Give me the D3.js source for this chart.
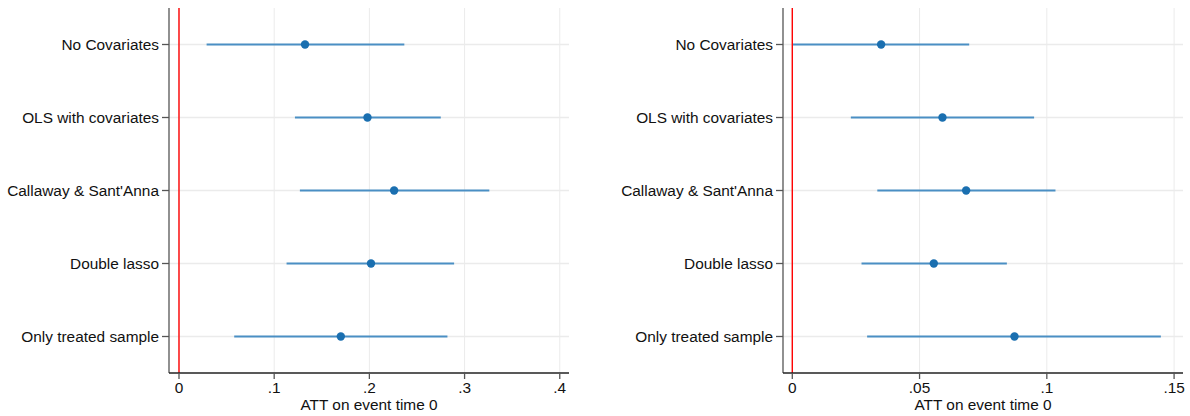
<!DOCTYPE html>
<html>
<head>
<meta charset="utf-8">
<script src="https://cdn.jsdelivr.net/npm/d3@7"></script>
<style>
  body { margin: 0; background: #fff; }
  text { font-family: "Liberation Sans", Arial, sans-serif; fill: #111; }
</style>
</head>
<body>
<div id="chart"></div>
<script>
// estimators, top to bottom
var models = ["No Covariates", "OLS with covariates", "Callaway & Sant'Anna", "Double lasso", "Only treated sample"];

// left panel
var leftEst = [0.1324, 0.198, 0.226, 0.2017, 0.170];
var leftLo  = [0.029, 0.1218, 0.127, 0.113, 0.058];
var leftHi  = [0.2367, 0.275, 0.326, 0.289, 0.282];
var leftTicks = [0, 0.1, 0.2, 0.3, 0.4];
var leftTickLabels = ["0", ".1", ".2", ".3", ".4"];

// right panel
var rightEst = [0.0349, 0.059, 0.0683, 0.0556, 0.0873];
var rightLo  = [0.0003, 0.023, 0.0334, 0.0272, 0.0294];
var rightHi  = [0.0695, 0.095, 0.1034, 0.0843, 0.1448];
var rightTicks = [0, 0.05, 0.1, 0.15];
var rightTickLabels = ["0", ".05", ".1", ".15"];

var xTitle = "ATT on event time 0";

var svg = d3.select("#chart").append("svg")
    .attr("width", 1190)
    .attr("height", 416);

function drawPanel(left, right, xdom, est, lo, hi, ticks, tickLabels) {
    var top = 8, bottom = 373;
    var x = d3.scaleLinear().domain(xdom).range([left, right]);
    var y = d3.scaleLinear().domain([0.5, 5.5]).range([top, bottom]);
    var g = svg.append("g");

    // grid
    g.selectAll(".vgrid").data(ticks).enter().append("line")
        .attr("x1", function (d) { return x(d); })
        .attr("x2", function (d) { return x(d); })
        .attr("y1", top).attr("y2", bottom)
        .attr("stroke", "#ebebeb").attr("stroke-width", 1);
    g.selectAll(".hgrid").data(models).enter().append("line")
        .attr("x1", left).attr("x2", right)
        .attr("y1", function (d, i) { return y(i + 1); })
        .attr("y2", function (d, i) { return y(i + 1); })
        .attr("stroke", "#ebebeb").attr("stroke-width", 1.5);

    // reference line at zero
    g.append("line")
        .attr("x1", x(0)).attr("x2", x(0))
        .attr("y1", top).attr("y2", bottom)
        .attr("stroke", "#ff0000").attr("stroke-width", 1.4);

    // CIs
    g.selectAll(".ci").data(models).enter().append("line")
        .attr("x1", function (d, i) { return x(lo[i]); })
        .attr("x2", function (d, i) { return x(hi[i]); })
        .attr("y1", function (d, i) { return y(i + 1); })
        .attr("y2", function (d, i) { return y(i + 1); })
        .attr("stroke", "#4a8fc4").attr("stroke-width", 2);

    g.selectAll(".pt").data(models).enter().append("circle")
        .attr("cx", function (d, i) { return x(est[i]); })
        .attr("cy", function (d, i) { return y(i + 1); })
        .attr("r", 4.2)
        .attr("fill", "#1a6fb0");

    // y axis
    g.append("line")
        .attr("x1", left).attr("x2", left)
        .attr("y1", top).attr("y2", bottom)
        .attr("stroke", "#555").attr("stroke-width", 1.3);
    g.selectAll(".ytick").data(models).enter().append("line")
        .attr("x1", left - 7).attr("x2", left)
        .attr("y1", function (d, i) { return y(i + 1); })
        .attr("y2", function (d, i) { return y(i + 1); })
        .attr("stroke", "#555").attr("stroke-width", 1.3);
    g.selectAll(".ylab").data(models).enter().append("text")
        .attr("x", left - 10)
        .attr("y", function (d, i) { return y(i + 1); })
        .attr("dy", "0.35em")
        .attr("text-anchor", "end")
        .style("font-size", "15.4px")
        .text(function (d) { return d; });

    // x axis
    g.append("line")
        .attr("x1", left).attr("x2", right)
        .attr("y1", bottom).attr("y2", bottom)
        .attr("stroke", "#222").attr("stroke-width", 1.3);
    g.selectAll(".xtick").data(ticks).enter().append("line")
        .attr("x1", function (d) { return x(d); })
        .attr("x2", function (d) { return x(d); })
        .attr("y1", bottom).attr("y2", bottom + 6)
        .attr("stroke", "#555").attr("stroke-width", 1.3);
    g.selectAll(".xlab").data(ticks).enter().append("text")
        .attr("x", function (d) { return x(d); })
        .attr("y", 393)
        .attr("text-anchor", "middle")
        .style("font-size", "15.4px")
        .text(function (d, i) { return tickLabels[i]; });
    g.append("text")
        .attr("x", (left + right) / 2)
        .attr("y", 409.5)
        .attr("text-anchor", "middle")
        .style("font-size", "15.4px")
        .text(xTitle);
}

drawPanel(169, 569, [-0.0105, 0.4097], leftEst, leftLo, leftHi, leftTicks, leftTickLabels);
drawPanel(783, 1183, [-0.00365, 0.1535], rightEst, rightLo, rightHi, rightTicks, rightTickLabels);
</script>
</body>
</html>
